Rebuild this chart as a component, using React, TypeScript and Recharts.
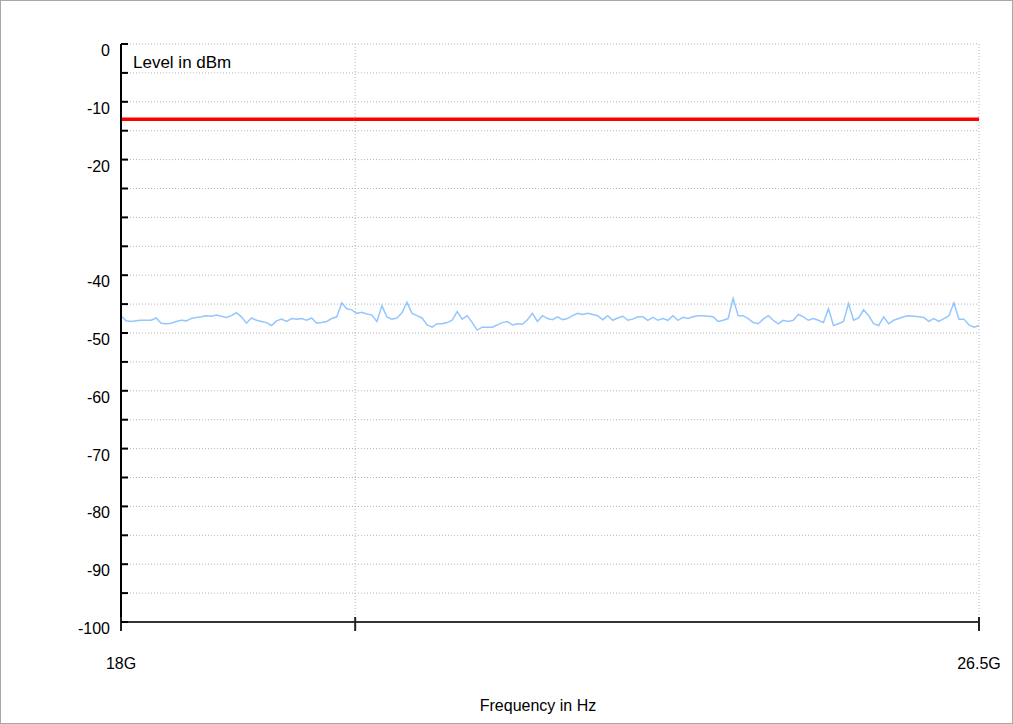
import { LineChart, Line, XAxis, YAxis, CartesianGrid, ReferenceLine } from 'recharts'

// sweep settings (GHz)
const startGHz = 18
const stopGHz = 26.5

const limitDbm = -13

const yTicks = [0, -5, -10, -15, -20, -25, -30, -35, -40, -45, -50, -55, -60, -65, -70, -75, -80, -85, -90, -95, -100]
const yLabels = [0, -10, -20, -40, -50, -60, -70, -80, -90, -100]
const xTicks = [18, 20.32, 26.5]
const xLabels: Record<string, string> = { '18': '18G', '26.5': '26.5G' }

// measured level in dBm, one point per sweep step
const traceDbm = [
    -47.0, -47.9, -48.0, -47.9, -47.8, -47.8, -47.8, -47.4, -48.3, -48.4, -48.3, -48.0, -47.8, -47.9, -47.5, -47.3, -47.2,
    -47.0, -47.1, -46.9, -47.1, -47.3, -47.0, -46.5, -47.2, -48.3, -47.4, -47.8, -48.0, -48.2, -48.7, -47.9, -47.6, -48.0, -47.5,
    -47.6, -47.5, -47.8, -47.4, -48.3, -48.2, -48.0, -47.5, -47.2, -44.8, -45.8, -46.0, -46.6, -46.4, -46.7, -46.9, -48.0,
    -45.3, -47.2, -47.6, -47.4, -46.5, -44.7, -46.6, -47.0, -47.4, -48.6, -49.0, -48.4, -48.4, -48.2, -47.8, -46.3, -47.6,
    -47.0, -48.2, -49.5, -49.0, -49.0, -49.0, -48.6, -48.2, -48.0, -48.6, -48.4, -48.5, -47.7, -46.6, -48.0, -47.0, -47.5,
    -47.7, -47.2, -47.7, -47.5, -47.0, -46.6, -46.8, -46.6, -46.8, -47.0, -47.7, -47.0, -47.8, -47.4, -47.1, -47.8, -47.6, -47.2,
    -47.2, -47.8, -47.3, -47.8, -47.5, -47.8, -47.0, -47.8, -47.3, -47.5, -47.2, -47.0, -47.0, -47.1, -47.2, -48.0, -47.8,
    -47.5, -44.0, -47.0, -47.0, -47.5, -48.2, -48.4, -47.6, -47.0, -47.8, -48.4, -47.8, -48.0, -47.8, -46.8, -47.2, -47.8,
    -47.5, -47.8, -48.2, -45.8, -48.7, -48.4, -48.0, -44.9, -47.8, -47.4, -46.0, -47.0, -48.4, -48.7, -47.2, -48.4, -47.8,
    -47.5, -47.2, -47.0, -47.1, -47.2, -47.3, -48.0, -47.5, -48.0, -47.5, -47.0, -44.8, -47.6, -47.6, -48.6, -49.0, -48.7,
]

const step = (stopGHz - startGHz) / (traceDbm.length - 1)
const data = traceDbm.map((level, i) => ({ freq: startGHz + i * step, level }))

const font = '"Liberation Sans", Arial, sans-serif'

const YTick = (props: any) => {
    const { x, y, payload } = props
    return (
        <g>
            <line x1={x} x2={x + 7} y1={y} y2={y} stroke="#000" strokeWidth={2} />
            {yLabels.includes(payload.value) && (
                <text x={x - 11} y={y + 12} textAnchor="end" fontSize={16} fontFamily={font} fill="#000">
                    {payload.value}
                </text>
            )}
        </g>
    )
}

const XTick = (props: any) => {
    const { x, y, payload } = props
    const label = xLabels[String(payload.value)]
    return (
        <g>
            <line x1={x} x2={x} y1={y - 5} y2={y + 9} stroke="#222" strokeWidth={2} />
            {label && (
                <text x={x} y={y + 47} textAnchor="middle" fontSize={16} fontFamily={font} fill="#000">
                    {label}
                </text>
            )}
        </g>
    )
}

export default function App() {
    return (
        <div style={{ position: 'absolute', left: 0, top: 0, width: 1013, height: 724, background: '#fff' }}>
            <LineChart width={1013} height={724} data={data} margin={{ top: 44, right: 34, left: 0, bottom: 0 }}>
                <CartesianGrid stroke="#b4b4b4" strokeDasharray="1 2" />
                <XAxis
                    dataKey="freq"
                    type="number"
                    domain={[startGHz, stopGHz]}
                    ticks={xTicks}
                    height={102}
                    tickSize={0}
                    tickMargin={0}
                    tickLine={false}
                    tick={<XTick />}
                    axisLine={{ stroke: '#333', strokeWidth: 2 }}
                />
                <YAxis
                    type="number"
                    domain={[-100, 0]}
                    ticks={yTicks}
                    width={121}
                    tickSize={0}
                    tickMargin={0}
                    tickLine={false}
                    tick={<YTick />}
                    axisLine={{ stroke: '#000', strokeWidth: 2 }}
                    interval={0}
                />
                <ReferenceLine y={limitDbm} stroke="#ff0000" strokeWidth={3.5} />
                <Line
                    type="linear"
                    dataKey="level"
                    stroke="#94c6ff"
                    strokeWidth={1.5}
                    dot={false}
                    isAnimationActive={false}
                />
            </LineChart>
            <svg width={1013} height={724} style={{ position: 'absolute', left: 0, top: 0, pointerEvents: 'none' }}>
                <text x={133} y={68} fontSize={17} fontFamily={font} fill="#000">Level in dBm</text>
                <text x={538} y={711} textAnchor="middle" fontSize={16} fontFamily={font} fill="#000">Frequency in Hz</text>
                <rect x={0.5} y={0.5} width={1012} height={723} fill="none" stroke="#a8a8a8" />
            </svg>
        </div>
    )
}
